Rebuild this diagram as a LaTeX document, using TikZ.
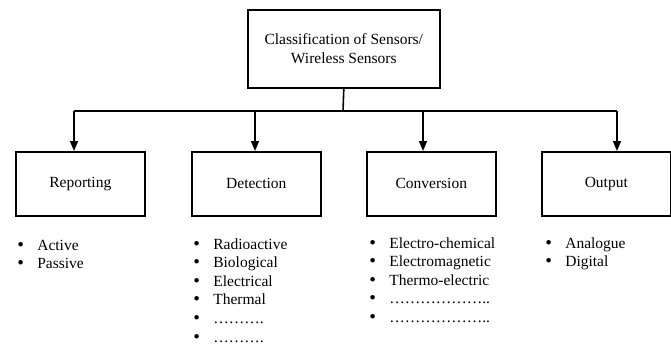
\documentclass[tikz,border=0pt]{standalone}
\usepackage{fontspec}
\setmainfont{Liberation Serif}
\newfontfamily\bulfont{DejaVu Sans}
\usetikzlibrary{arrows.meta}
\newcommand{\bul}{{\bulfont •}}
\begin{document}
\begin{tikzpicture}[x=1pt,y=-1pt,
  every node/.style={font=\fontsize{15.5}{18.6}\selectfont},
  box/.style={draw,line width=1.6pt,minimum width=129pt,minimum height=64pt,inner sep=0pt,anchor=north west},
  topbox/.style={draw,line width=1.6pt,minimum width=192pt,minimum height=78pt,inner sep=0pt,align=center,anchor=north west},
  lst/.style={inner sep=0pt,anchor=base west},
  link/.style={line width=1.6pt},
  arr/.style={line width=1.6pt,-{Triangle[length=10pt,width=8pt]}}]
\useasboundingbox (0,0) rectangle (671,346);
\node[topbox] (top) at (247,9) {Classification of Sensors/\\Wireless Sensors};
\node[box] (rep) at (15,151) {Reporting};
\node[box] (det) at (191,151) {Detection};
\node[box] (con) at (366,151) {Conversion};
\node[box] (out) at (541,151) {Output};
\coordinate (hub) at (343,111);
\coordinate (j1) at (74,111);
\coordinate (j2) at (255,111);
\coordinate (j3) at (423,111);
\coordinate (j4) at (617,111);
\draw[link] (top.south) -- (hub);
\draw[link] (j1) -- (j4);
\draw[arr] (j1) -- (j1 |- rep.north);
\draw[arr] (j2) -- (j2 |- det.north);
\draw[arr] (j3) -- (j3 |- con.north);
\draw[arr] (j4) -- (j4 |- out.north);
\node[lst] (lrep) at (16,250) {\begin{tabular}[t]{@{}l@{\hspace{12pt}}l@{}}\bul&Active\\\bul&Passive\end{tabular}};
\node[lst] (ldet) at (192,249) {\begin{tabular}[t]{@{}l@{\hspace{12pt}}l@{}}\bul&Radioactive\\\bul&Biological\\\bul&Electrical\\\bul&Thermal\\\bul&……….\\\bul&……….\end{tabular}};
\node[lst] (lcon) at (368,248) {\begin{tabular}[t]{@{}l@{\hspace{12pt}}l@{}}\bul&Electro-chemical\\\bul&Electromagnetic\\\bul&Thermo-electric\\\bul&………………..\\\bul&………………..\end{tabular}};
\node[lst] (lout) at (544,248) {\begin{tabular}[t]{@{}l@{\hspace{12pt}}l@{}}\bul&Analogue\\\bul&Digital\end{tabular}};
\end{tikzpicture}
\end{document}
